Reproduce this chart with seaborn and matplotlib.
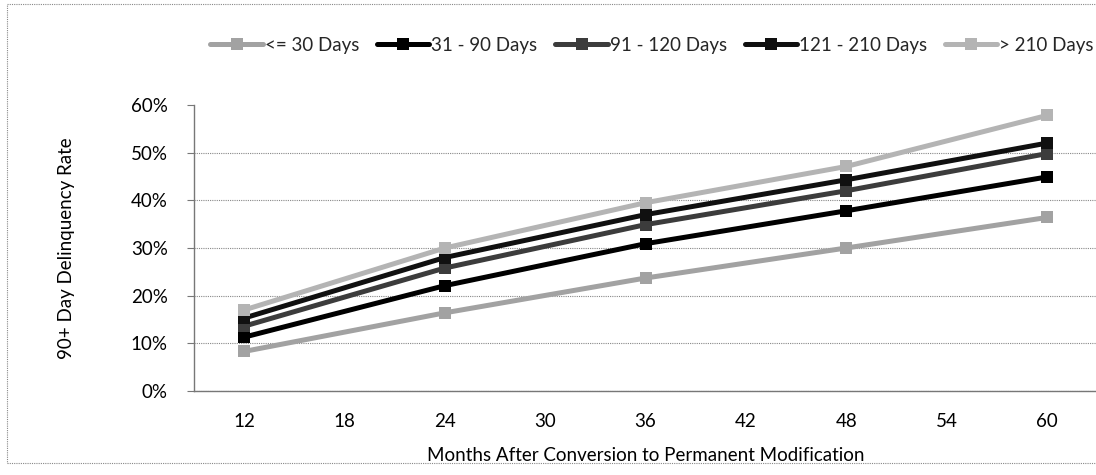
import matplotlib
matplotlib.use("Agg")
import matplotlib.pyplot as plt
from matplotlib.patches import Rectangle
from matplotlib.lines import Line2D
from matplotlib.ticker import PercentFormatter
import seaborn as sns
import pandas as pd

months = [12, 24, 36, 48, 60]
series_names = ["<= 30 Days", "31 - 90 Days", "91 - 120 Days", "121 - 210 Days", "> 210 Days"]
le30 = [0.083, 0.164, 0.237, 0.300, 0.364]
d31_90 = [0.113, 0.221, 0.309, 0.378, 0.449]
d91_120 = [0.136, 0.258, 0.349, 0.420, 0.498]
d121_210 = [0.153, 0.280, 0.370, 0.443, 0.520]
gt210 = [0.170, 0.300, 0.395, 0.471, 0.578]
x_ticks = [12, 18, 24, 30, 36, 42, 48, 54, 60]
y_ticks = [0, 0.1, 0.2, 0.3, 0.4, 0.5, 0.6]

colors = ["#a2a2a2", "#000000", "#3c3c3c", "#101010", "#b4b4b4"]

rows = []
for name, vals in zip(series_names, [le30, d31_90, d91_120, d121_210, gt210]):
    for m, v in zip(months, vals):
        rows.append({"Months": m, "Rate": v, "Series": name})
df = pd.DataFrame(rows)

sns.set_theme(style="white")
plt.rcParams["font.family"] = ["Lato", "DejaVu Sans"]

fig = plt.figure(figsize=(10.96, 4.75), dpi=100)
ax = fig.add_axes([194 / 1096, 1 - 391 / 475, (1097 - 194) / 1096, (391 - 105) / 475])

sns.lineplot(data=df, x="Months", y="Rate", hue="Series", hue_order=series_names,
             palette=colors, marker="s", markersize=8, linewidth=3.6,
             markeredgewidth=0, dashes=False, ax=ax, legend=False, zorder=3)

ax.set_xlim(9, 63)
ax.set_ylim(0, 0.6)
ax.set_xticks(x_ticks)
ax.set_yticks(y_ticks)
ax.yaxis.set_major_formatter(PercentFormatter(1.0, decimals=0))
ax.tick_params(axis="both", labelsize=13.5, colors="#000000")
ax.tick_params(axis="y", length=5, width=0.8, color="#777777", direction="out", left=True, pad=14)
ax.tick_params(axis="x", length=0, pad=16)
for t in ax.get_yticklabels() + ax.get_xticklabels():
    t.set_color("black")

ax.grid(axis="y", linestyle=(0, (1, 1)), color="#888888", linewidth=0.8, zorder=0)
ax.grid(axis="x", visible=False)
ax.yaxis.get_gridlines()[-1].set_visible(False)
for s in ["top", "right"]:
    ax.spines[s].set_visible(False)
for s in ["left", "bottom"]:
    ax.spines[s].set_color("#777777")
    ax.spines[s].set_linewidth(1.0)

ax.set_xlabel("Months After Conversion to Permanent Modification", fontsize=13.5, labelpad=12, color="black")
ax.set_ylabel("90+ Day Delinquency Rate", fontsize=13.5, labelpad=40, color="black")

handles = [Line2D([0], [0], color=c, linewidth=3.6, marker="s", markersize=8, markeredgewidth=0)
           for c in colors]
fig.legend(handles, series_names, loc="center", bbox_to_anchor=(0.595, 0.905), ncol=5,
           frameon=False, fontsize=13.5, handlelength=2.8, handletextpad=0.1, columnspacing=0.95,
           borderaxespad=0, borderpad=0)

fig.patches.append(Rectangle((7 / 1096, 1 - 463 / 475), 1.01, (463 - 4) / 475,
                             transform=fig.transFigure, fill=False, edgecolor="#888888",
                             linewidth=0.8, linestyle=(0, (1, 1))))

fig.savefig("out.png", dpi=100)
